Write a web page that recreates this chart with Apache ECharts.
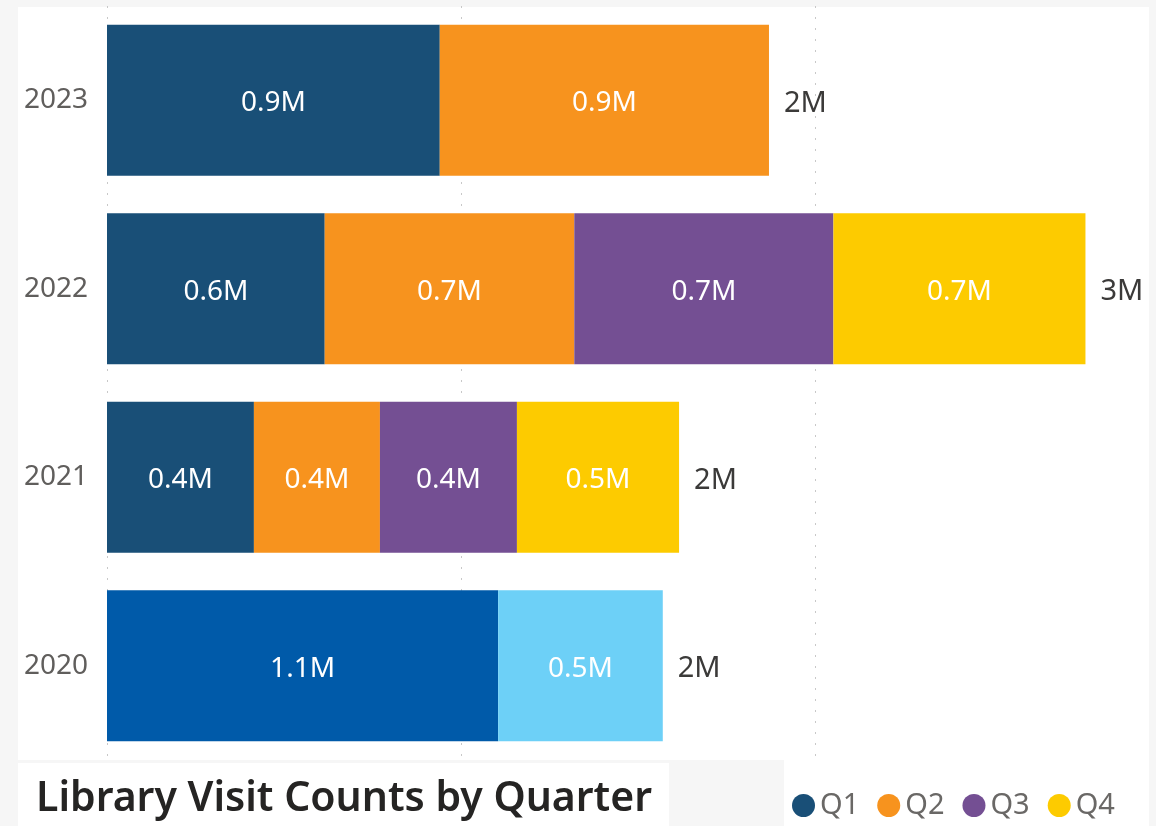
<!DOCTYPE html>
<html>
<head>
<meta charset="utf-8">
<script src="https://cdn.jsdelivr.net/npm/echarts@6/dist/echarts.min.js"></script>
<style>
  html, body { margin: 0; padding: 0; background: #f6f6f6; }
  #chart { width: 1156px; height: 826px; }
</style>
</head>
<body>
<div id="chart"></div>
<script>
// values in millions of visits
const years = ['2020', '2021', '2022', '2023']
const quarters = ['Q1', 'Q2', 'Q3', 'Q4']
const q1 = [1.105, 0.415, 0.615, 0.94]
const q2 = [0.465, 0.356, 0.705, 0.93]
const q3 = [null, 0.387, 0.732, null]
const q4 = [null, 0.458, 0.712, null]

const quarterColors = ['#194f77', '#f7931e', '#744f93', '#fdcb00']
// 2020 is drawn in its own blue shades
const year2020Colors = ['#005aa9', '#6dd0f7']

const seriesValues = [q1, q2, q3, q4]
const totals = years.map((_, i) => seriesValues.reduce((sum, arr) => sum + (arr[i] || 0), 0))

const font = '"Noto Sans", "Open Sans", sans-serif'

function fmtM(v) {
  return `${Number(v).toFixed(1)}M`
}

const chart = echarts.init(document.getElementById('chart'))

const quarterSeries = quarters.map((name, qi) => ({
  name,
  type: 'bar',
  stack: 'visits',
  barCategoryGap: '20%',
  itemStyle: { color: quarterColors[qi] },
  label: {
    show: true,
    position: 'inside',
    offset: [0, 3],
    color: '#ffffff',
    fontFamily: font,
    fontSize: 28,
    formatter: (p) => fmtM(p.value)
  },
  data: seriesValues[qi].map((v, yi) => {
    if (years[yi] === '2020' && year2020Colors[qi]) {
      return { value: v, itemStyle: { color: year2020Colors[qi] } }
    }
    return v
  })
}))

chart.setOption({
  backgroundColor: 'transparent',
  animation: false,
  graphic: [
    { type: 'rect', z: -10, shape: { x: 18, y: 7, width: 1131, height: 753 }, style: { fill: '#ffffff' } },
    { type: 'rect', z: -10, shape: { x: 18, y: 763, width: 651, height: 63 }, style: { fill: '#ffffff' } },
    { type: 'rect', z: -10, shape: { x: 784, y: 760, width: 365, height: 66 }, style: { fill: '#ffffff' } }
  ],
  title: {
    text: 'Library Visit Counts by Quarter',
    left: 31,
    top: 774,
    textStyle: { fontFamily: font, fontSize: 41, fontWeight: 600, color: '#252423' }
  },
  legend: {
    data: quarters,
    left: 787,
    top: 786,
    icon: 'circle',
    itemWidth: 23,
    itemHeight: 23,
    itemGap: 18,
    textStyle: { fontFamily: font, fontSize: 29, color: '#6a6866' }
  },
  grid: { left: 107, width: 1062, top: 6, bottom: 66, containLabel: false, outerBoundsMode: 'none' },
  xAxis: {
    type: 'value',
    min: 0,
    max: 3,
    interval: 1,
    axisLabel: { show: false },
    axisLine: { show: false },
    axisTick: { show: false },
    splitLine: { show: true, lineStyle: { color: '#c8c8c8', width: 1, type: [2, 9] } }
  },
  yAxis: {
    type: 'category',
    data: years,
    axisLine: { show: false },
    axisTick: { show: false },
    axisLabel: { fontFamily: font, fontSize: 28, color: '#605e5c', margin: 19, padding: [6, 0, 0, 0] }
  },
  series: [
    ...quarterSeries,
    {
      name: 'Total',
      type: 'bar',
      stack: 'visits',
      silent: true,
      itemStyle: { color: 'transparent' },
      label: {
        show: true,
        position: 'right',
        distance: 15,
        offset: [0, 3],
        color: '#3b3a39',
        fontFamily: font,
        fontSize: 29,
        formatter: (p) => `${Math.round(totals[p.dataIndex])}M`
      },
      data: years.map(() => 0)
    }
  ]
})
</script>
</body>
</html>
